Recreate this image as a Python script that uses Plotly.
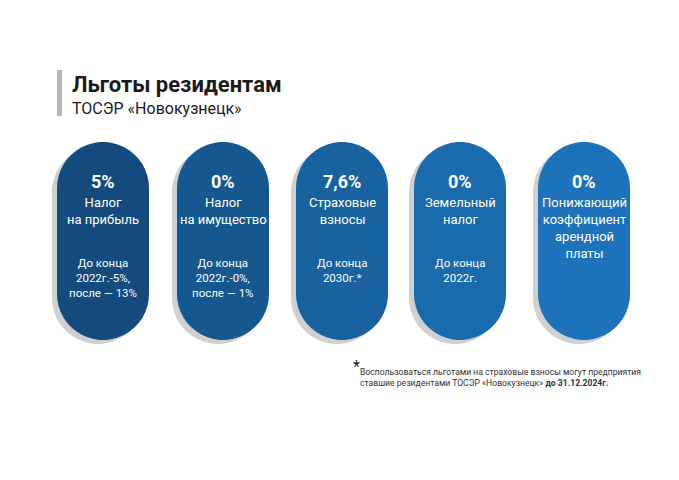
import numpy as np
import plotly.graph_objs as go

# data of the infographic
percents = ['5%', '0%', '7,6%', '0%', '0%']
names = ['Налог<br>на прибыль', 'Налог<br>на имущество', 'Страховые<br>взносы',
         'Земельный<br>налог', 'Понижающий<br>коэффициент<br>арендной<br>платы']
notes = ['До конца<br>2022г.-5%,<br>после — 13%', 'До конца<br>2022г.-0%,<br>после — 1%',
         'До конца<br>2030г.*', 'До конца<br>2022г.', '']
colors = ['#134b7e', '#15578f', '#1862a0', '#1a6aae', '#1c73bb']
left_edges = [57, 177, 296, 414, 538]
FONT = 'Roboto, sans-serif'


def pill_path(x0, y0, w, h, n=24):
    r = w / 2.0
    cx = x0 + r
    t1 = np.linspace(np.pi, 2 * np.pi, n)    # top arc
    t2 = np.linspace(0, np.pi, n)            # bottom arc
    pts = [(cx + r * np.cos(t), y0 + r + r * np.sin(t)) for t in t1]
    pts += [(cx + r * np.cos(t), y0 + h - r + r * np.sin(t)) for t in t2]
    return 'M ' + ' L '.join('%.1f,%.1f' % p for p in pts) + ' Z'


fig = go.Figure()
fig.add_trace(go.Scatter(x=[10, 670], y=[10, 470], mode='markers', marker=dict(opacity=0), hoverinfo='skip'))

shapes = [dict(type='rect', x0=57, x1=62, y0=70, y1=116, fillcolor='#b5b5b5', line_width=0)]
annotations = [
    dict(x=70, y=84, text='<b>Льготы резидентам</b>', font=dict(size=22, color='#1a1a1a', family=FONT), xanchor='left'),
    dict(x=70, y=108, text='ТОСЭР «Новокузнецк»', font=dict(size=16, color='#1a1a1a', family=FONT), xanchor='left'),
]
w, h, top = 92, 198, 142
for i in range(len(percents)):
    x0 = left_edges[i]
    shapes.append(dict(type='path', path=pill_path(x0 - 5, top + 4, w, h), fillcolor='rgba(120,120,120,0.35)', line_width=0))
    shapes.append(dict(type='path', path=pill_path(x0, top, w, h), fillcolor=colors[i], line_width=0))
    cx = x0 + w / 2
    annotations.append(dict(x=cx, y=181, text='<b>' + percents[i] + '</b>', font=dict(size=18, color='white', family=FONT)))
    annotations.append(dict(x=cx, y=193, text=names[i], yanchor='top', font=dict(size=13, color='white', family=FONT)))
    if notes[i]:
        annotations.append(dict(x=cx, y=254, text=notes[i], yanchor='top', font=dict(size=11.5, color='white', family=FONT)))

annotations.append(dict(x=351, y=366, text='*', font=dict(size=16, color='#222', family=FONT), xanchor='left'))
annotations.append(dict(x=358, y=377, yanchor='middle', xanchor='left', align='left',
                        text='Воспользоваться льготами на страховые взносы могут предприятия<br>ставшие резидентами ТОСЭР «Новокузнецк» <b>до 31.12.2024г.</b>',
                        font=dict(size=8.6, color='#333', family=FONT)))
for a in annotations:
    a.update(xref='x', yref='y', showarrow=False)

fig.update_layout(width=679, height=480, margin=dict(l=0, r=0, t=0, b=0), showlegend=False,
                  plot_bgcolor='white', paper_bgcolor='white', shapes=shapes, annotations=annotations,
                  xaxis=dict(range=[8, 687], visible=False, fixedrange=True),
                  yaxis=dict(range=[488, 8], visible=False, fixedrange=True))
fig.write_html("out.html")
